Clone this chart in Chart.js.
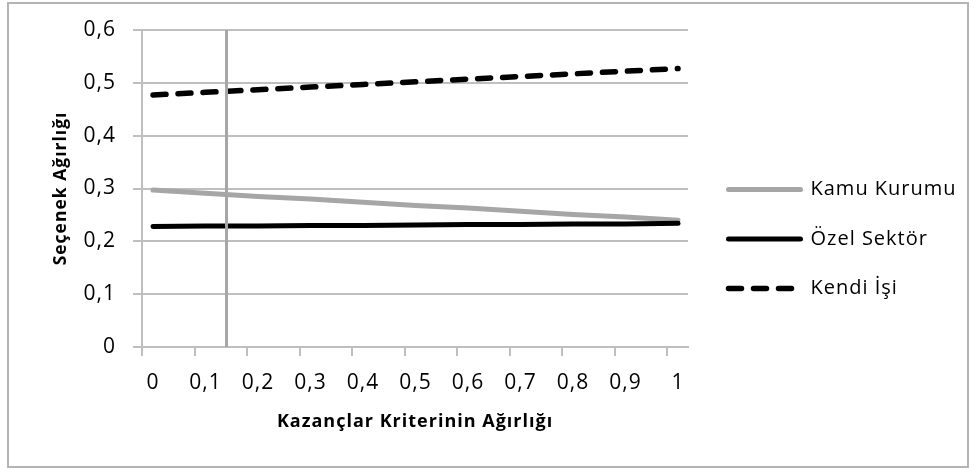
<!DOCTYPE html>
<html>
<head>
<meta charset="utf-8">
<script src="https://cdn.jsdelivr.net/npm/chart.js@4"></script>
<style>
  html, body { margin: 0; padding: 0; background: #fff; }
  #wrap { width: 978px; height: 472px; position: relative; }
</style>
</head>
<body>
<div id="wrap"><canvas id="sensChart"></canvas></div>
<script>
const xValues = [0, 0.1, 0.2, 0.3, 0.4, 0.5, 0.6, 0.7, 0.8, 0.9, 1];
const xLabels = ['0', '0,1', '0,2', '0,3', '0,4', '0,5', '0,6', '0,7', '0,8', '0,9', '1'];
const yLabels = ['0', '0,1', '0,2', '0,3', '0,4', '0,5', '0,6'];

const kamuKurumu = [0.297, 0.291, 0.285, 0.280, 0.274, 0.268, 0.263, 0.257, 0.251, 0.246, 0.240];
const ozelSektor = [0.228, 0.229, 0.229, 0.230, 0.230, 0.231, 0.232, 0.232, 0.233, 0.233, 0.234];
const kendiIsi = [0.477, 0.482, 0.487, 0.492, 0.497, 0.502, 0.507, 0.512, 0.517, 0.522, 0.527];

const markerX = 0.14;
const markerY = [0, 0.6];

// excel puts the tick marks a little left of the labels
const tickShift = 0.021;

const font = 'Open Sans';
const gridColor = '#bfbfbf';

function toPoints(values) {
  return xValues.map((x, i) => ({ x: x, y: values[i] }));
}

// outer border, legend placement and calibri-ish wide text
const frame = {
  id: 'frame',
  beforeUpdate(chart) {
    chart.ctx.letterSpacing = '1px';
  },
  afterInit(chart) {
    const legend = chart.legend;
    const fit = legend.fit;
    legend.fit = function () {
      fit.call(this);
      this.width = 280;
    };
  },
  afterLayout(chart) {
    const legend = chart.legend;
    legend.left += 11;
    legend.right += 11;
    legend.top -= 12;
    legend.bottom -= 12;
  },
  beforeDraw(chart) {
    const ctx = chart.ctx;
    ctx.letterSpacing = '1px';
    ctx.save();
    ctx.strokeStyle = '#b4b4b4';
    ctx.lineWidth = 2;
    ctx.strokeRect(8, 3, 960, 464);
    ctx.restore();
  }
};

new Chart(document.getElementById('sensChart'), {
  type: 'line',
  data: {
    datasets: [
      {
        label: 'Kamu Kurumu',
        data: toPoints(kamuKurumu),
        borderColor: '#a6a6a6',
        backgroundColor: '#a6a6a6',
        borderWidth: 5,
        borderCapStyle: 'round',
        pointRadius: 0,
        order: 3
      },
      {
        label: 'Özel Sektör',
        data: toPoints(ozelSektor),
        borderColor: '#000000',
        backgroundColor: '#000000',
        borderWidth: 5,
        borderCapStyle: 'round',
        pointRadius: 0,
        order: 2
      },
      {
        label: 'Kendi İşi',
        data: toPoints(kendiIsi),
        borderColor: '#000000',
        backgroundColor: '#000000',
        borderWidth: 5.5,
        borderDash: [13, 12],
        borderCapStyle: 'round',
        pointRadius: 0,
        order: 1
      },
      {
        label: 'marker',
        data: markerY.map(y => ({ x: markerX, y: y })),
        borderColor: '#a6a6a6',
        borderWidth: 3,
        pointRadius: 0,
        order: 0
      }
    ]
  },
  options: {
    responsive: true,
    maintainAspectRatio: false,
    animation: false,
    devicePixelRatio: 1,
    layout: {
      padding: { left: 10, top: 30, right: 10, bottom: 0 }
    },
    scales: {
      x: {
        type: 'linear',
        min: -tickShift,
        max: 1.019,
        afterBuildTicks: scale => {
          scale.ticks = xValues.map(v => ({ value: v - tickShift }));
        },
        afterFit: scale => {
          scale.height = 125;
        },
        ticks: {
          callback: (value, index) => xLabels[index],
          labelOffset: 11,
          maxRotation: 0,
          autoSkip: false,
          padding: 14,
          color: '#000',
          font: { family: font, size: 21 }
        },
        grid: {
          drawOnChartArea: false,
          tickLength: 9,
          color: gridColor,
          lineWidth: 2
        },
        border: { color: gridColor, width: 2 },
        title: {
          display: true,
          text: 'Kazançlar Kriterinin Ağırlığı',
          color: '#000',
          font: { family: font, size: 18, weight: 'bold' },
          padding: { top: 4, bottom: 39 }
        }
      },
      y: {
        min: 0,
        max: 0.6,
        afterFit: scale => {
          scale.width = 132;
        },
        ticks: {
          stepSize: 0.1,
          callback: (value, index) => yLabels[index],
          padding: 17,
          color: '#000',
          font: { family: font, size: 21 }
        },
        grid: {
          tickLength: 9,
          color: gridColor,
          lineWidth: 2
        },
        border: { color: gridColor, width: 2 },
        title: {
          display: true,
          text: 'Seçenek Ağırlığı',
          color: '#000',
          font: { family: font, size: 17.5, weight: 'bold' },
          padding: { top: 41, bottom: 0 }
        }
      }
    },
    plugins: {
      legend: {
        position: 'right',
        labels: {
          usePointStyle: true,
          pointStyle: 'line',
          pointStyleWidth: 72,
          padding: 29.5,
          color: '#000',
          font: { family: font, size: 20 },
          generateLabels: chart => {
            const items = Chart.defaults.plugins.legend.labels.generateLabels(chart);
            return items.filter(item => item.text !== 'marker').map(item => {
              const ds = chart.data.datasets[item.datasetIndex];
              item.lineDash = ds.borderDash || [];
              item.lineWidth = ds.borderWidth;
              item.lineCap = 'round';
              item.strokeStyle = ds.borderColor;
              return item;
            });
          },
          sort: (a, b) => a.datasetIndex - b.datasetIndex
        }
      },
      tooltip: { enabled: false }
    }
  },
  plugins: [frame]
});
</script>
</body>
</html>
